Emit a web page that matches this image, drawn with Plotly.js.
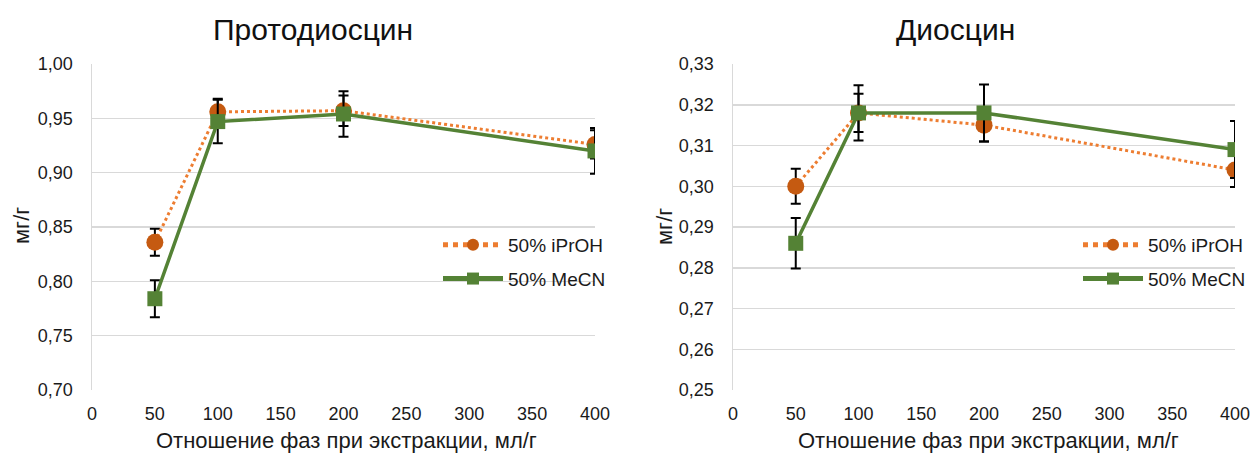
<!DOCTYPE html>
<html>
<head>
<meta charset="utf-8">
<script src="https://cdn.plot.ly/plotly-3.0.1.min.js"></script>
<style>html,body{margin:0;padding:0;background:#fff}#chart{width:1254px;height:456px}</style>
</head>
<body>
<div id="chart"></div>
<script>
// Data
const ratio = [50, 100, 200, 400];
const seriesNames = ["50% iPrOH", "50% MeCN"];
const protoIPrOH = [0.836, 0.956, 0.957, 0.926];
const protoIPrOHErr = [0.0125, 0.012, 0.014, 0.013];
const protoMeCN = [0.784, 0.947, 0.954, 0.920];
const protoMeCNErr = [0.017, 0.020, 0.021, 0.021];
const diosIPrOH = [0.300, 0.318, 0.315, 0.304];
const diosIPrOHErr = [0.0043, 0.0047, 0.004, 0.0042];
const diosMeCN = [0.286, 0.318, 0.318, 0.309];
const diosMeCNErr = [0.0062, 0.0068, 0.007, 0.007];
const titles = ["Протодиосцин", "Диосцин"];
const xTitle = "Отношение фаз при экстракции, мл/г";
const yTitle = "мг/г";

const W = 1254, H = 456;
const FONT = "Liberation Sans, Arial, sans-serif";
const orangeLine = "#ED7D31", orangeMarker = "#C55A11", green = "#548235";

function iprohTrace(y, err, xa, ya, legend) {
  return {
    x: ratio, y: y, xaxis: xa, yaxis: ya, legend: legend, name: seriesNames[0],
    legendgroup: 'a', type: 'scatter', mode: 'lines+markers',
    line: {color: orangeLine, width: 3, dash: 'dot'},
    marker: {symbol: 'circle', size: 17, color: orangeMarker},
    error_y: {type: 'data', array: err, visible: true, color: '#000', thickness: 2, width: 5}
  };
}
function mecnTrace(y, err, xa, ya, legend) {
  return {
    x: ratio, y: y, xaxis: xa, yaxis: ya, legend: legend, name: seriesNames[1],
    legendgroup: 'b', type: 'scatter', mode: 'lines+markers',
    line: {color: green, width: 3.5},
    marker: {symbol: 'square', size: 15, color: green},
    error_y: {type: 'data', array: err, visible: true, color: '#000', thickness: 2, width: 5}
  };
}

const data = [
  iprohTrace(protoIPrOH, protoIPrOHErr, 'x', 'y', 'legend'),
  mecnTrace(protoMeCN, protoMeCNErr, 'x', 'y', 'legend'),
  iprohTrace(diosIPrOH, diosIPrOHErr, 'x2', 'y2', 'legend2'),
  mecnTrace(diosMeCN, diosMeCNErr, 'x2', 'y2', 'legend2')
];

const yDom = [1 - 390 / H, 1 - 64 / H];
const tickFont = {family: FONT, size: 18, color: '#1a1a1a'};
function xaxis(l, r, anchor) {
  return {
    domain: [l / W, r / W], anchor: anchor, range: [0, 400], dtick: 50, tick0: 0,
    showgrid: false, zeroline: false, showline: false,
    ticks: 'outside', ticklen: 7, tickcolor: 'rgba(0,0,0,0)',
    tickfont: tickFont, fixedrange: true
  };
}
function yaxis(range, dtick, anchor) {
  return {
    domain: yDom, anchor: anchor, range: range, dtick: dtick, tick0: range[0],
    tickformat: '.2f', showgrid: true, gridcolor: '#d9d9d9', gridwidth: 1.5,
    zeroline: false, showline: true, linecolor: '#d9d9d9', linewidth: 1.5,
    ticks: 'outside', ticklen: 14, tickcolor: 'rgba(0,0,0,0)',
    tickfont: tickFont, fixedrange: true
  };
}

function legendAt(xpx) {
  return {
    x: xpx / W, y: 1 - 226 / H, xanchor: 'left', yanchor: 'top',
    font: {family: FONT, size: 19, color: '#1a1a1a'},
    bgcolor: 'rgba(0,0,0,0)', itemwidth: 60, itemsizing: 'constant',
    traceorder: 'grouped', tracegroupgap: 6
  };
}

const ann = [
  {text: titles[0], x: 313 / W, y: 1 - 30 / H},
  {text: titles[1], x: 955 / W, y: 1 - 30 / H}
].map(a => Object.assign(a, {xref: 'paper', yref: 'paper', showarrow: false,
  xanchor: 'center', yanchor: 'middle', font: {family: FONT, size: 30, color: '#111'}}));
[[346, 440], [988, 440]].forEach(p => ann.push({text: xTitle, x: p[0] / W, y: 1 - p[1] / H,
  xref: 'paper', yref: 'paper', showarrow: false, xanchor: 'center', yanchor: 'middle',
  font: {family: FONT, size: 22, color: '#1a1a1a'}}));
[[21, 226], [664, 226]].forEach(p => ann.push({text: yTitle, x: p[0] / W, y: 1 - p[1] / H,
  xref: 'paper', yref: 'paper', showarrow: false, xanchor: 'center', yanchor: 'middle',
  textangle: -90, font: {family: FONT, size: 22, color: '#1a1a1a'}}));

const layout = {
  width: W, height: H, margin: {l: 0, r: 0, t: 0, b: 0},
  paper_bgcolor: '#fff', plot_bgcolor: '#fff', separators: ', ',
  font: {family: FONT},
  xaxis: xaxis(92, 595, 'y'), yaxis: yaxis([0.70, 1.00], 0.05, 'x'),
  xaxis2: xaxis(733, 1235, 'y2'), yaxis2: yaxis([0.25, 0.33], 0.01, 'x2'),
  showlegend: true,
  legend: legendAt(438), legend2: legendAt(1078),
  annotations: ann
};

Plotly.newPlot('chart', data, layout, {staticPlot: true, displayModeBar: false});
</script>
</body>
</html>
